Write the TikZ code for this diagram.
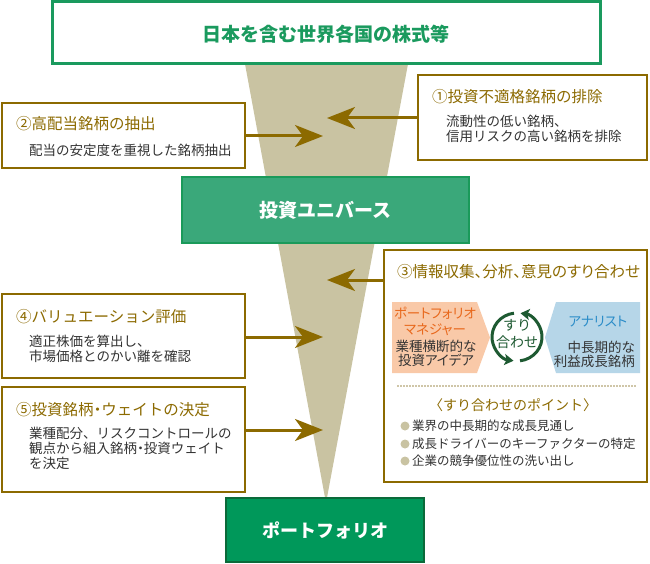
\documentclass[tikz,border=0pt]{standalone}
\usepackage{fontspec}
\newfontfamily\jp{Noto Sans CJK JP}
\newfontfamily\jpp{Noto Sans CJK JP}[RawFeature=+palt]
\usetikzlibrary{arrows.meta}
\definecolor{gtop}{HTML}{1A9A5E}
\definecolor{tan}{HTML}{C9C3A2}
\definecolor{gold}{HTML}{8C6A00}
\definecolor{uni}{HTML}{3AA87A}
\definecolor{unib}{HTML}{1A9A5A}
\definecolor{port}{HTML}{00985A}
\definecolor{portb}{HTML}{0B6A3A}
\definecolor{peach}{HTML}{F9C9A8}
\definecolor{orng}{HTML}{E8681C}
\definecolor{lblue}{HTML}{B6D6E8}
\definecolor{dblue}{HTML}{2A8CC8}
\definecolor{dgreen}{HTML}{1E5A32}
\definecolor{body}{HTML}{333333}
\definecolor{dots}{HTML}{CFC6A8}
\begin{document}
\begin{tikzpicture}[x=1pt,y=1pt,
  gbox/.style={draw=gold, line width=1.8pt, fill=white, inner sep=0pt},
  ttl/.style={inner sep=0pt, anchor=west, text=gold, font=\jp\fontsize{15.5}{17}\selectfont},
  bodytxt/.style={inner sep=0pt, anchor=west, align=left, text=body, font=\jp\fontsize{13.5}{15}\selectfont},
  smalltxt/.style={inner sep=0pt, align=center, text=body, font=\jp\fontsize{13}{15}\selectfont},
  shtxt/.style={inner sep=0pt, align=center, text=body, font=\jpp\fontsize{13.5}{15}\selectfont},
  arr/.style={draw=gold, line width=3pt, -{Stealth[length=28pt,width=22pt,inset=8pt]}},
  carr/.style={draw=dgreen, line width=3pt, -{Stealth[length=9pt,width=11pt,inset=2pt]}},
  bigtxt/.style={inner sep=0pt, font=\jp\bfseries\fontsize{19}{21}\selectfont}
]
\useasboundingbox (0,0) rectangle (650,563);
% funnel
\fill[tan] (245,499) -- (408,499) -- (326,60) -- cycle;
% top box
\node[draw=gtop, line width=3pt, fill=white, minimum width=548pt, minimum height=62pt] (top) at (326,530) {};
\node[bigtxt, text=gtop] (topt) at (326,529) {日本を含む世界各国の株式等};
% universe box
\node[draw=unib, line width=2pt, fill=uni, minimum width=287pt, minimum height=66pt] (univ) at (325.5,353) {};
\node[bigtxt, text=white] (univt) at (325.5,353) {投資ユニバース};
% portfolio box
\node[draw=portb, line width=2.4pt, fill=port, minimum width=198pt, minimum height=64pt] (port) at (325,33) {};
\node[bigtxt, text=white, font=\jp\bfseries\fontsize{18}{20}\selectfont] (portt) at (325,33) {ポートフォリオ};

% box 2
\node[gbox, minimum width=243pt, minimum height=65pt] (b2) at (123.5,427.5) {};
\node[ttl] (b2t) at (16,439) {②高配当銘柄の抽出};
\node[bodytxt] (b2b) at (29,413) {配当の安定度を重視した銘柄抽出};
\coordinate (t2) at (323,427);
\draw[arr] (b2.east |- t2) -- (t2);

% box 1
\node[gbox, minimum width=229pt, minimum height=85pt] (b1) at (532.5,445.5) {};
\node[ttl] (b1t) at (432,466) {①投資不適格銘柄の排除};
\node[bodytxt] (b1b) at (446,434.5) {流動性の低い銘柄、\\信用リスクの高い銘柄を排除};
\coordinate (t1) at (327,445);
\draw[arr] (b1.west |- t1) -- (t1);

% box 4
\node[gbox, minimum width=243pt, minimum height=84pt] (b4) at (123.5,227) {};
\node[ttl] (b4t) at (16,246) {④バリュエーション評価};
\node[bodytxt] (b4b) at (29,214) {適正株価を算出し、\\市場価格とのかい離を確認};
\coordinate (t4) at (323,226);
\draw[arr] (b4.east |- t4) -- (t4);

% box 5
\node[gbox, minimum width=243pt, minimum height=105pt] (b5) at (123.5,123.5) {};
\node[ttl] (b5t) at (16,153) {⑤投資銘柄{\jpp・}ウェイトの決定};
\node[bodytxt] (b5b) at (29,115) {業種配分、リスクコントロールの\\観点から組入銘柄{\jpp・}投資ウェイト\\を決定};
\coordinate (t5) at (323,133);
\draw[arr] (b5.east |- t5) -- (t5);

% box 3
\node[gbox, minimum width=263pt, minimum height=232pt] (b3) at (515.5,197) {};
\node[ttl, font=\jpp\fontsize{15.5}{17}\selectfont] (b3t) at (397,291) {③情報収集、分析、意見のすり合わせ};
\coordinate (t3) at (327,283);
\draw[arr] (b3.west |- t3) -- (t3);

% peach shape
\fill[peach] (392,261) -- (477,261) -- (490,225.5) -- (477,190) -- (392,190) -- cycle;
\node[shtxt, text=orng] (pm1) at (435,250) {ポートフォリオ};
\node[shtxt, text=orng] (pm2) at (435,233) {マネジャー};
\node[shtxt] (pm3) at (436,217) {業種横断的な};
\node[shtxt] (pm4) at (436,203) {投資アイデア};
% blue shape
\fill[lblue] (545,225.5) -- (556,261) -- (640,261) -- (640,190) -- (556,190) -- cycle;
\node[shtxt, text=dblue] (an1) at (598,241) {アナリスト};
\node[shtxt, anchor=east] (an2) at (635,216) {中長期的な};
\node[shtxt, anchor=east] (an3) at (635,202) {利益成長銘柄};
% circular arrows
\coordinate (cc) at (517,226);
\draw[carr] ([shift={(97:25pt and 24pt)}]cc) arc[start angle=97, end angle=262, x radius=25pt, y radius=24pt];
\draw[carr] ([shift={(277:25pt and 24pt)}]cc) arc[start angle=277, end angle=442, x radius=25pt, y radius=24pt];
\node[smalltxt, text=dgreen, font=\jp\fontsize{14}{16}\selectfont] (sr1) at (517,238) {すり};
\node[smalltxt, text=dgreen, font=\jp\fontsize{14}{16}\selectfont] (sr2) at (517,221) {合わせ};
% dotted line
\coordinate (d1) at (397,177);
\coordinate (d2) at (637,177);
\draw[dots, line width=1.5pt, dash pattern=on 1.5pt off 1.5pt] (d1) -- (d2);
\node[smalltxt, text=gold, font=\jp\fontsize{14}{16}\selectfont] (pt) at (513,158) {〈すり合わせのポイント〉};
% bullets
\foreach \yy/\tx [count=\i] in {137/業界の中長期的な成長見通し, 119/成長ドライバーのキーファクターの特定, 102/企業の競争優位性の洗い出し}{
  \fill[tan] (405,\yy) circle (4.5pt);
  \node[smalltxt, anchor=west, font=\jp\fontsize{12.5}{14}\selectfont] (bl\i) at (412,\yy) {\tx};
}
\end{tikzpicture}
\end{document}
